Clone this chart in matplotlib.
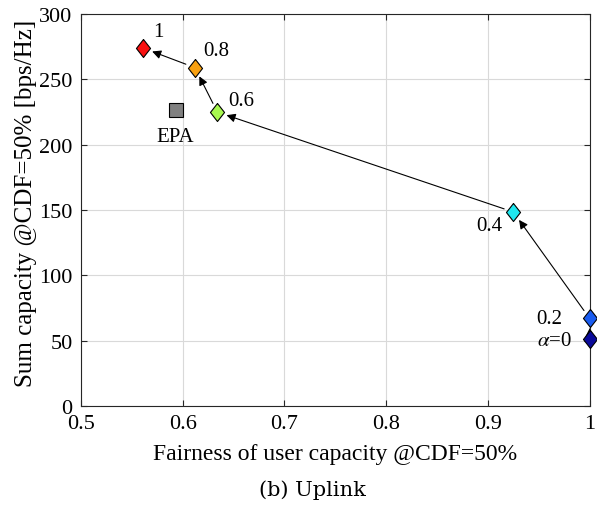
import matplotlib
matplotlib.use('Agg')
import matplotlib.pyplot as plt

# ====== DATOS ======
alphas = ['0', '0.2', '0.4', '0.6', '0.8', '1']
fairness = [1.0, 1.0, 0.925, 0.634, 0.612, 0.561]
sum_cap = [51, 67, 148.5, 225, 259, 274]
colores = ['#0a0a9a', '#1a5cf0', '#1ee8f0', '#a8f850', '#f8a010', '#f81010']

epa_x = 0.593
epa_y = 226.5

plt.rcParams['font.family'] = ['Liberation Serif', 'DejaVu Serif']
plt.rcParams['mathtext.fontset'] = 'stix'

fig = plt.figure(figsize=(5.97, 5.06), dpi=100)
ax = fig.add_axes([0.1357, 0.1957, 0.852, 0.7745])

# rombo algo mas alto que ancho
rombo = [(0, 1), (0.78, 0), (0, -1), (-0.78, 0), (0, 1)]

# flechas de alpha menor a alpha mayor
for i in range(len(alphas) - 1):
    ax.annotate('', xy=(fairness[i + 1], sum_cap[i + 1]), xytext=(fairness[i], sum_cap[i]),
                arrowprops=dict(arrowstyle='-|>', color='black', lw=0.8,
                                mutation_scale=13, shrinkA=7, shrinkB=7), zorder=2)

for x, y, c in zip(fairness, sum_cap, colores):
    ax.plot(x, y, marker=rombo, markersize=13, color=c, markeredgecolor='black',
            markeredgewidth=0.8, linestyle='none', zorder=3, clip_on=False)

ax.plot(epa_x, epa_y, marker='s', markersize=9.5, color='#808080', markeredgecolor='black',
        markeredgewidth=0.8, zorder=3)

# ====== ETIQUETAS ======
offsets = [(-25, -1), (-29, 0), (-17, -10), (17, 8), (15, 12), (11, 12)]
etiquetas = [r'$\alpha$=0', '0.2', '0.4', '0.6', '0.8', '1']
for lab, x, y, off in zip(etiquetas, fairness, sum_cap, offsets):
    ax.annotate(lab, xy=(x, y), xytext=off, textcoords='offset points',
                ha='center', va='center', fontsize=15)
ax.annotate('EPA', xy=(epa_x, epa_y), xytext=(0, -19), textcoords='offset points',
            ha='center', va='center', fontsize=15)

ax.set_xlim(0.5, 1.0)
ax.set_ylim(0, 300)
ax.set_xticks([0.5, 0.6, 0.7, 0.8, 0.9, 1.0])
ax.set_xticklabels(['0.5', '0.6', '0.7', '0.8', '0.9', '1'])
ax.set_yticks(range(0, 301, 50))
ax.tick_params(direction='in', length=4, labelsize=16, top=True, right=True,
               colors='#262626', labelcolor='black')
ax.tick_params(axis='x', pad=6)
ax.tick_params(axis='y', pad=6)
ax.grid(True, color='#d9d9d9', linewidth=0.8)
ax.set_axisbelow(True)
for s in ax.spines.values():
    s.set_color('#262626')
    s.set_linewidth(0.8)

ax.set_xlabel('Fairness of user capacity @CDF=50%', fontsize=17)
ax.xaxis.set_label_coords(0.5, -0.094)
ax.set_ylabel('Sum capacity @CDF=50% [bps/Hz]', fontsize=18)
ax.yaxis.set_label_coords(-0.0865, 0.52)
fig.text(312 / 597, 1 - 490 / 506, '(b) Uplink', ha='center', va='center',
         fontsize=15, family='DejaVu Serif')

fig.savefig('out.png', dpi=100)
